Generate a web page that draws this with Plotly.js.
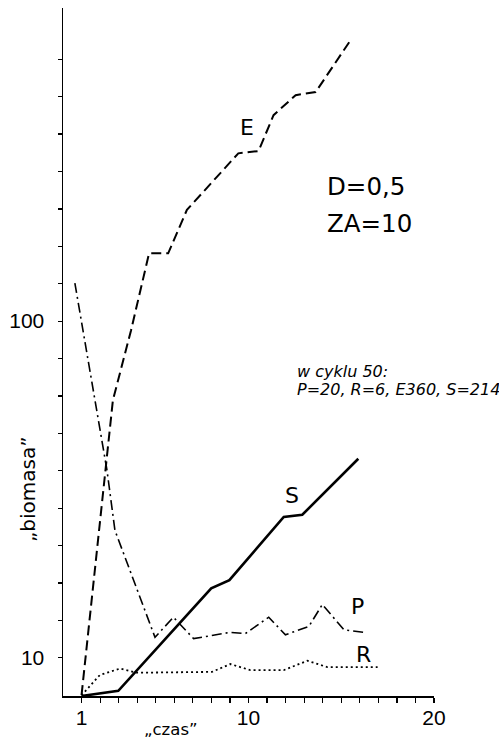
<!DOCTYPE html>
<html>
<head>
<meta charset="utf-8">
<script src="https://cdn.plot.ly/plotly-3.0.1.min.js"></script>
<style>html,body{margin:0;padding:0;background:#fff;}#chart{width:499px;height:741px;}</style>
</head>
<body>
<div id="chart"></div>
<script>
// Series (x = "czas", y = "biomasa", log scale)
const eX = [1.0, 2.31, 2.69, 3.67, 4.64, 5.67, 6.68, 9.45, 10.54, 11.35, 12.54, 13.62, 15.51];
const eY = [7.75, 36.1, 58.2, 94.0, 159, 159, 214, 315, 320, 409, 469, 479, 684];

const pX = [0.64, 2.37, 2.80, 4.96, 5.95, 7.04, 9.02, 9.83, 11.09, 11.99, 13.26, 13.98, 15.15, 16.23];
const pY = [129.7, 36.1, 23.9, 11.5, 13.2, 11.4, 11.9, 11.8, 13.2, 11.7, 12.4, 14.4, 12.1, 11.9];

const sX = [1.0, 1.99, 2.98, 7.99, 8.97, 11.90, 12.90, 15.92];
const sY = [7.7, 7.84, 7.98, 16.07, 17.0, 26.2, 26.6, 39.0];

const rX = [1.0, 1.99, 3.07, 3.98, 8.03, 9.02, 10.1, 11.9, 13.17, 14.25, 16.96];
const rY = [7.74, 8.89, 9.29, 9.03, 9.08, 9.58, 9.19, 9.19, 9.80, 9.38, 9.38];

// Axis ticks
const xTickVals = [1,2,3,4,5,6,7,8,9,10,11,12,13,14,15,16,17,18,19,20];
const xTickText = ['1','','','','','','','','','10','','','','','','','','','','20'];
const yTickVals = [10, 12.92, 16.68, 21.54, 27.83, 35.94, 46.42, 59.95, 77.43, 100, 129.2, 166.8, 215.4, 278.3, 359.4, 464.2, 599.5];
const yTickText = ['10','','','','','','','','','100','','','','','','',''];

const TICKFONT = 'Liberation Sans, Arial, Helvetica, sans-serif';
const TEXTFONT = 'DejaVu Sans, Liberation Sans, sans-serif';

const traces = [
  {x: eX, y: eY, mode: 'lines', line: {color: '#000', width: 2, dash: '10px,5px'}, name: 'E'},
  {x: pX, y: pY, mode: 'lines', line: {color: '#000', width: 1.6, dash: '10px,4px,2px,4px'}, name: 'P'},
  {x: sX, y: sY, mode: 'lines', line: {color: '#000', width: 2.6}, name: 'S'},
  {x: rX, y: rY, mode: 'lines', line: {color: '#000', width: 1.8, dash: '2px,3px'}, name: 'R'}
];

const ann = (text, x, y, size, opts) => Object.assign({
  text: text, x: x, y: y, xref: 'paper', yref: 'paper', showarrow: false,
  xanchor: 'center', yanchor: 'middle', font: {family: TEXTFONT, size: size, color: '#000'}
}, opts || {});

const layout = {
  width: 499, height: 741,
  margin: {l: 63, r: 65, t: 8, b: 45, pad: 0},
  paper_bgcolor: '#fff', plot_bgcolor: '#fff',
  showlegend: false,
  font: {family: TEXTFONT, color: '#000'},
  xaxis: {
    range: [0, 20], showgrid: false, zeroline: false,
    showline: true, linecolor: '#000', linewidth: 1.5,
    ticks: 'outside', ticklen: 5, tickwidth: 1.2, tickcolor: '#000',
    tickmode: 'array', tickvals: xTickVals, ticktext: xTickText,
    tickfont: {family: TICKFONT, size: 21, color: '#000'},
    ticklabelstandoff: -3
  },
  yaxis: {
    type: 'log', range: [0.8865, 2.930], showgrid: false, zeroline: false,
    showline: true, linecolor: '#000', linewidth: 1.5,
    ticks: 'outside', ticklen: 4, tickwidth: 1.2, tickcolor: '#000',
    tickmode: 'array', tickvals: yTickVals, ticktext: yTickText,
    tickfont: {family: TICKFONT, size: 21, color: '#000'},
    ticklabelstandoff: 9
  },
  annotations: [
    ann('E', 0.496, 0.8256, 22),
    ann('D=0,5', 0.706, 0.740, 24.5, {xanchor: 'left'}),
    ann('ZA=10', 0.706, 0.687, 24.5, {xanchor: 'left'}),
    ann('<i>w cyklu 50:</i>', 0.625, 0.4714, 16, {xanchor: 'left'}),
    ann('<i>P=20, R=6, E360, S=214</i>', 0.625, 0.4448, 16, {xanchor: 'left'}),
    ann('S', 0.617, 0.292, 22),
    ann('P', 0.7925, 0.1298, 22),
    ann('R', 0.811, 0.0596, 22),
    ann('„czas”', 0.291, -0.0494, 16.5),
    ann('„biomasa”', -0.094, 0.301, 20, {textangle: -90})
  ]
};

Plotly.newPlot('chart', traces, layout, {displayModeBar: false, staticPlot: true});
</script>
</body>
</html>
